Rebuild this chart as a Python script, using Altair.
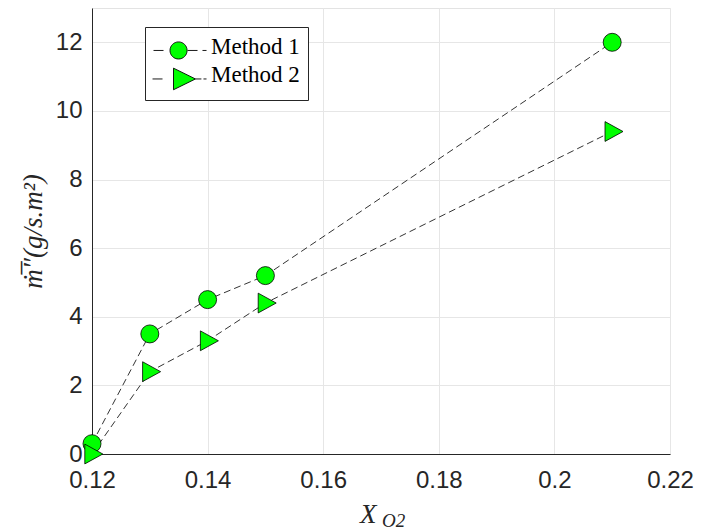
import altair as alt
import pandas as pd

# ---- data ----
x_o2 = [0.12, 0.13, 0.14, 0.15, 0.21]
method1 = [0.3, 3.5, 4.5, 5.2, 12.0]
method2 = [0.0, 2.4, 3.3, 4.4, 9.4]
series_names = ["Method 1", "Method 2"]
x_ticks = [0.12, 0.14, 0.16, 0.18, 0.20, 0.22]
y_ticks = [0, 2, 4, 6, 8, 10, 12]
y_title = "m\u0307\u0305\u2033(g/s.m\u00b2)"
x_title_main = ["X"]
x_title_sub = ["O2"]

rows = []
for name, vals in zip(series_names, [method1, method2]):
    for xv, yv in zip(x_o2, vals):
        rows.append({"x": xv, "y": yv, "method": name})
df = pd.DataFrame(rows)

GREEN = "#00ff00"
TRI = "M-0.8,-1.1 L1.2,0 L-0.8,1.1 Z"
LEG_CIRC = ("M-1.22,0.44 L-0.11,0.44 M2.56,0.44 L3.67,0.44 M4.22,0.44 L4.67,0.44 "
            "M2.51,0.44 A0.95,0.95 0 1,1 0.61,0.44 A0.95,0.95 0 1,1 2.51,0.44 Z")
LEG_TRI = ("M-1.33,0.44 L-0.22,0.44 M3.44,0.44 L4.1,0.44 M4.33,0.44 L4.67,0.44 "
           "M1.0,-0.76 L3.44,0.44 L1.0,1.64 Z")

xs = alt.Scale(domain=[0.12, 0.22], nice=False, zero=False)
ys = alt.Scale(domain=[0, 13], nice=False, zero=False)

X = alt.X("x:Q", scale=xs, title=None,
          axis=alt.Axis(values=x_ticks, format=".2~f", labelFlush=False))
Y = alt.Y("y:Q", scale=ys, title=y_title,
          axis=alt.Axis(values=y_ticks, labelFlush=False,
                        titleFont="Liberation Serif", titleFontStyle="italic"))

base = alt.Chart(df)

lines = base.mark_line(color="black", strokeWidth=0.8, strokeDash=[7, 4]).encode(
    x=X, y=Y, detail="method:N"
)

points = base.mark_point(filled=True, fill=GREEN, color=GREEN, stroke="black",
                         strokeWidth=0.8, opacity=1, size=324).encode(
    x=X, y=Y,
    shape=alt.Shape("method:N",
                    scale=alt.Scale(domain=series_names, range=["circle", TRI]),
                    legend=None),
)

legend_layer = base.transform_filter("false").transform_calculate(
    leg="datum.method"
).mark_point(filled=True, color=GREEN, fill=GREEN, stroke="black",
             strokeWidth=0.9, opacity=1, size=324).encode(
    x=X, y=Y,
    shape=alt.Shape("leg:N",
                    scale=alt.Scale(domain=series_names, range=[LEG_CIRC, LEG_TRI]),
                    legend=alt.Legend(
                        title=None, orient="none", legendX=53, legendY=19,
                        fillColor="white", strokeColor="#262626",
                        padding=8, labelOffset=35, rowPadding=2.5,
                        labelFont="Liberation Serif", labelFontSize=23,
                        labelColor="black", symbolSize=324,
                        symbolStrokeWidth=0.9, symbolOpacity=1,
                    )),
)

tdf_main = pd.DataFrame({"t": x_title_main})
tdf_sub = pd.DataFrame({"t": x_title_sub})
xt_main = alt.Chart(tdf_main).mark_text(
    align="left", baseline="alphabetic", font="Liberation Serif",
    fontStyle="italic", fontSize=27, color="#262626"
).encode(x=alt.value(268), y=alt.value(515), text="t:N")
xt_sub = alt.Chart(tdf_sub).mark_text(
    align="left", baseline="alphabetic", font="Liberation Serif",
    fontStyle="italic", fontSize=19, color="#262626"
).encode(x=alt.value(290), y=alt.value(519), text="t:N")

chart = alt.layer(lines, points, legend_layer, xt_main, xt_sub).resolve_scale(
    shape="independent"
).properties(
    width=578, height=446,
    autosize=alt.AutoSizeParams(type="none"),
    padding={"left": 84, "top": 0, "right": 26, "bottom": 77},
).configure_view(
    stroke="#e3e3e3", strokeWidth=1
).configure_axis(
    domainColor="#262626", domainWidth=1, gridColor="#e6e6e6", gridWidth=1,
    ticks=False, labelFont="Liberation Sans", labelFontSize=24,
    labelColor="#262626", labelPadding=14,
    titleFont="Liberation Serif", titleFontStyle="italic", titleFontWeight="normal",
    titleFontSize=27, titleColor="#262626",
).configure_axisY(
    labelPadding=10, titlePadding=8
)

chart.save("out.html", embed_options={"renderer": "svg", "actions": False})
